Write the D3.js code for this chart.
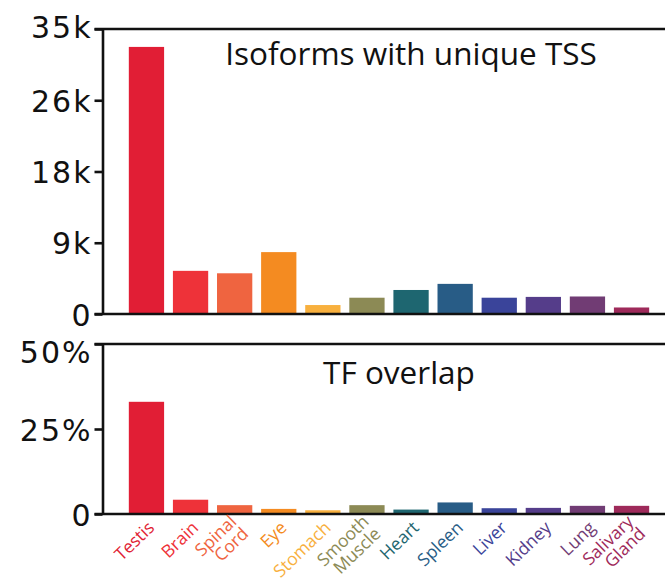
<!DOCTYPE html>
<html>
<head>
<meta charset="utf-8">
<script src="https://cdn.jsdelivr.net/npm/d3@7"></script>
<style>
    body { margin: 0; background: #fff; }
    svg { display: block; font-family: "Open Sans", sans-serif; }
</style>
</head>
<body>
<div id="chart"></div>
<script>
const tissues = ["Testis", "Brain", "Spinal Cord", "Eye", "Stomach", "Smooth Muscle",
    "Heart", "Spleen", "Liver", "Kidney", "Lung", "Salivary Gland"];
const isoformCounts = [32800, 5300, 5000, 7600, 1100, 2000, 2950, 3700, 2000, 2100, 2150, 800];
const tfOverlapPct = [33, 4.2, 2.6, 1.5, 1.1, 2.6, 1.3, 3.4, 1.7, 1.8, 2.4, 2.4];
const tissueColors = ["#e11e35", "#ee3239", "#ef6440", "#f48b21", "#f8b03e", "#8c8a55",
    "#1e6670", "#285c86", "#3a449a", "#553d8a", "#713c74", "#9e2a5a"];
const isoTickValues = [0, 8750, 17500, 26250, 35000];
const isoTickLabels = ["0", "9k", "18k", "26k", "35k"];
const tfTickValues = [0, 25, 50];
const tfTickLabels = ["0", "25%", "50%"];

const W = 665, H = 585;
const axisX = 102.5, rightX = 665, tickLen = 8;

const svg = d3.select("#chart").append("svg")
    .attr("width", W)
    .attr("height", H);

// shared band scale for both panels
const x = d3.scaleBand()
    .domain(tissues)
    .range([120, 658])
    .paddingInner(0.2)
    .paddingOuter(0.2);

const color = d3.scaleOrdinal().domain(tissues).range(tissueColors);

// one panel = bars + left axis + frame lines + title
const drawPanel = (values, yRange, maxVal, tickValues, tickLabels, title, titleX, titleY, topLabelShift) => {
    const y = d3.scaleLinear().domain([0, maxVal]).range(yRange);
    const g = svg.append("g");

    g.selectAll(".bar")
        .data(tissues)
        .enter()
        .append("rect")
        .attr("class", "bar")
        .attr("x", (d) => x(d))
        .attr("width", x.bandwidth())
        .attr("y", (d, i) => y(values[i]))
        .attr("height", (d, i) => y(0) - y(values[i]))
        .attr("fill", (d) => color(d));

    const axis = g.append("g")
        .attr("transform", "translate(" + axisX + ",0)")
        .call(d3.axisLeft(y)
            .tickValues(tickValues)
            .tickFormat((d, i) => tickLabels[i])
            .tickSize(tickLen)
            .tickSizeOuter(0)
            .tickPadding(2));
    axis.select(".domain").attr("stroke", "#111").attr("stroke-width", 2.6);
    axis.selectAll(".tick line").attr("stroke", "#111").attr("stroke-width", 2.6);
    axis.selectAll(".tick text")
        .attr("fill", "#111")
        .style("font-family", "'DejaVu Sans', sans-serif")
        .style("font-size", "30px")
        .style("letter-spacing", "2px")
        .attr("dy", (d) => (d === maxVal ? topLabelShift : 0) + 11);

    // top and bottom frame lines run across the whole panel
    [0, maxVal].forEach((v) => {
        g.append("line")
            .attr("x1", axisX - tickLen)
            .attr("x2", rightX)
            .attr("y1", y(v))
            .attr("y2", y(v))
            .attr("stroke", "#111")
            .attr("stroke-width", 2.6);
    });

    g.append("text")
        .attr("x", titleX)
        .attr("y", titleY)
        .attr("text-anchor", "middle")
        .attr("fill", "#111")
        .style("font-size", "31.5px")
        .text(title);

    return y;
};

drawPanel(isoformCounts, [314, 29], 35000, isoTickValues, isoTickLabels,
    "Isoforms with unique TSS", 411, 65, -3);
const yTf = drawPanel(tfOverlapPct, [514, 344], 50, tfTickValues, tfTickLabels,
    "TF overlap", 399, 384, 7);

// rotated, coloured tissue labels
const lineH = 17;
const labels = svg.selectAll(".xlab")
    .data(tissues)
    .enter()
    .append("text")
    .attr("class", "xlab")
    .attr("text-anchor", "end")
    .attr("fill", (d) => color(d))
    .style("font-size", "17.5px")
    .attr("transform", (d) => "translate(" + (x(d) + x.bandwidth() / 2 + 9) + "," + (yTf(0) + 15) + ") rotate(-44)");

labels.each(function (d) {
    const parts = d.split(" ");
    const t = d3.select(this);
    parts.forEach((p, i) => {
        t.append("tspan")
            .attr("x", 0)
            .attr("y", (i - (parts.length - 1) / 2) * lineH)
            .text(p);
    });
});
</script>
</body>
</html>
